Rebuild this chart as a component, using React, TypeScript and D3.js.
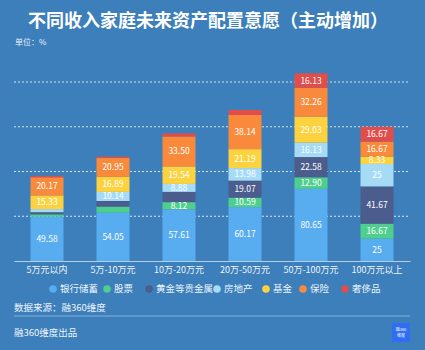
import React, { useEffect, useRef } from "react";
import * as d3 from "d3";

const categories = ["5万元以内", "5万-10万元", "10万-20万元", "20万-50万元", "50万-100万元", "100万元以上"];
const seriesNames = ["银行储蓄", "股票", "黄金等贵金属", "房地产", "基金", "保险", "奢侈品"];
const colors = ["#58acf0", "#4fcf8e", "#4b5d8c", "#a6dbf6", "#fcd23e", "#f98a3b", "#e04d4a"];

const bank = [49.58, 54.05, 57.61, 60.17, 80.65, 25];
const stock = [2.5, 6.7, 8.12, 10.59, 12.9, 16.67];
const gold = [2.5, 6.3, 11.5, 19.07, 22.58, 41.67];
const realEstate = [3.4, 10.14, 8.88, 13.98, 16.13, 25];
const fund = [15.33, 16.89, 19.54, 21.19, 29.03, 8.33];
const insurance = [20.17, 20.95, 33.5, 38.14, 32.26, 16.67];
const luxury = [1.7, 1.5, 3.4, 5.6, 16.13, 16.67];

// segments without a printed value in the original
const unlabeled = ["0-1", "0-2", "0-3", "0-6", "1-1", "1-2", "1-6", "2-2", "2-6", "3-6"];

const gridTicks = [0, 50, 100, 150, 200];

const fmt = (v: number) => (Number.isInteger(v) ? String(v) : v.toFixed(2));

export default function App() {
  const svgRef = useRef<SVGSVGElement>(null);

  useEffect(() => {
    const width = 425;
    const height = 350;
    const svg = d3.select(svgRef.current);
    svg.selectAll("*").remove();
    svg.attr("width", width).attr("height", height);

    const font = "'Noto Sans CJK SC', 'Noto Sans', sans-serif";

    svg.append("rect").attr("width", width).attr("height", height).attr("fill", "#3c7fba");

    svg
      .append("text")
      .attr("x", 208)
      .attr("y", 27)
      .attr("text-anchor", "middle")
      .attr("fill", "#fff")
      .attr("font-family", font)
      .attr("font-weight", "bold")
      .attr("font-size", "18px")
      .text("不同收入家庭未来资产配置意愿（主动增加）");

    svg
      .append("text")
      .attr("x", 15)
      .attr("y", 45)
      .attr("fill", "#e8f1fa")
      .attr("font-family", font)
      .attr("font-size", "8px")
      .text("单位：%");

    const rows = categories.map((c, i) => ({
      cat: c,
      i,
      vals: [bank[i], stock[i], gold[i], realEstate[i], fund[i], insurance[i], luxury[i]],
    }));

    const x = d3.scaleBand().domain(categories).range([14, 410]).paddingInner(0.5).paddingOuter(0.25);
    const y = d3.scaleLinear().domain([0, 200]).range([261, 82]);

    // grid
    svg
      .append("g")
      .selectAll("line")
      .data(gridTicks.slice(1))
      .join("line")
      .attr("x1", 14)
      .attr("x2", 410)
      .attr("y1", (d) => y(d))
      .attr("y2", (d) => y(d))
      .attr("stroke", "#d6e6f5")
      .attr("stroke-width", 1)
      .attr("stroke-dasharray", "2,2");

    const stackData = rows.map((r) => {
      const o: any = { cat: r.cat };
      seriesNames.forEach((s, k) => (o[s] = r.vals[k]));
      return o;
    });
    const stacked = d3.stack().keys(seriesNames)(stackData);

    const layers = svg
      .append("g")
      .selectAll("g")
      .data(stacked)
      .join("g")
      .attr("fill", (d, k) => colors[k]);

    layers
      .selectAll("rect")
      .data((d) => d)
      .join("rect")
      .attr("x", (d: any) => x(d.data.cat)!)
      .attr("width", x.bandwidth())
      .attr("y", (d) => y(d[1]))
      .attr("height", (d) => y(d[0]) - y(d[1]));

    const labels: any[] = [];
    stacked.forEach((layer, k) => {
      layer.forEach((d: any, i) => {
        if (unlabeled.includes(`${i}-${k}`)) return;
        labels.push({ cat: d.data.cat, mid: (d[0] + d[1]) / 2, v: d[1] - d[0], k });
      });
    });

    svg
      .append("g")
      .selectAll("text")
      .data(labels)
      .join("text")
      .attr("x", (d) => x(d.cat)! + x.bandwidth() / 2)
      .attr("y", (d) => y(d.mid) + 3)
      .attr("text-anchor", "middle")
      .attr("fill", "#fff")
      .attr("font-family", font)
      .attr("font-size", "8.5px")
      .text((d) => fmt(Math.round(d.v * 100) / 100));

    // x axis
    const xAxis = svg
      .append("g")
      .attr("transform", `translate(0, ${y(0)})`)
      .call(d3.axisBottom(x).tickSize(0).tickPadding(6));
    xAxis.select(".domain").attr("stroke", "#b5d0ea");
    xAxis
      .selectAll("text")
      .attr("fill", "#eef5fb")
      .attr("font-family", font)
      .attr("font-size", "9px");

    // legend
    const legendX = [53, 107, 149, 217, 266, 303, 345];
    const legend = svg
      .append("g")
      .selectAll("g")
      .data(seriesNames)
      .join("g")
      .attr("transform", (d, k) => `translate(${legendX[k]}, 289)`);
    legend.append("circle").attr("r", 3.8).attr("fill", (d, k) => colors[k]);
    legend
      .append("text")
      .attr("x", 7)
      .attr("y", 3.3)
      .attr("fill", "#eef5fb")
      .attr("font-family", font)
      .attr("font-size", "9.5px")
      .text((d) => d);

    svg
      .append("text")
      .attr("x", 14)
      .attr("y", 311)
      .attr("fill", "#eef5fb")
      .attr("font-family", font)
      .attr("font-size", "9.5px")
      .text("数据来源：融360维度");

    svg
      .append("line")
      .attr("x1", 14)
      .attr("x2", 410)
      .attr("y1", 316)
      .attr("y2", 316)
      .attr("stroke", "#86b0d8")
      .attr("stroke-width", 1);

    svg
      .append("text")
      .attr("x", 14)
      .attr("y", 335.5)
      .attr("fill", "#eef5fb")
      .attr("font-family", font)
      .attr("font-size", "9.5px")
      .text("融360维度出品");

    svg.append("rect").attr("x", 392).attr("y", 323).attr("width", 18).attr("height", 19).attr("fill", "#2f6ef0");
    svg
      .append("text")
      .attr("x", 401)
      .attr("y", 331)
      .attr("text-anchor", "middle")
      .attr("fill", "#fff")
      .attr("font-family", font)
      .attr("font-size", "4px")
      .text("融360");
    svg
      .append("text")
      .attr("x", 401)
      .attr("y", 337)
      .attr("text-anchor", "middle")
      .attr("fill", "#fff")
      .attr("font-family", font)
      .attr("font-size", "4px")
      .text("维度");
  }, []);

  return (
    <div style={{ position: "absolute", left: 0, top: 0 }}>
      <svg ref={svgRef} style={{ display: "block" }}></svg>
    </div>
  );
}
